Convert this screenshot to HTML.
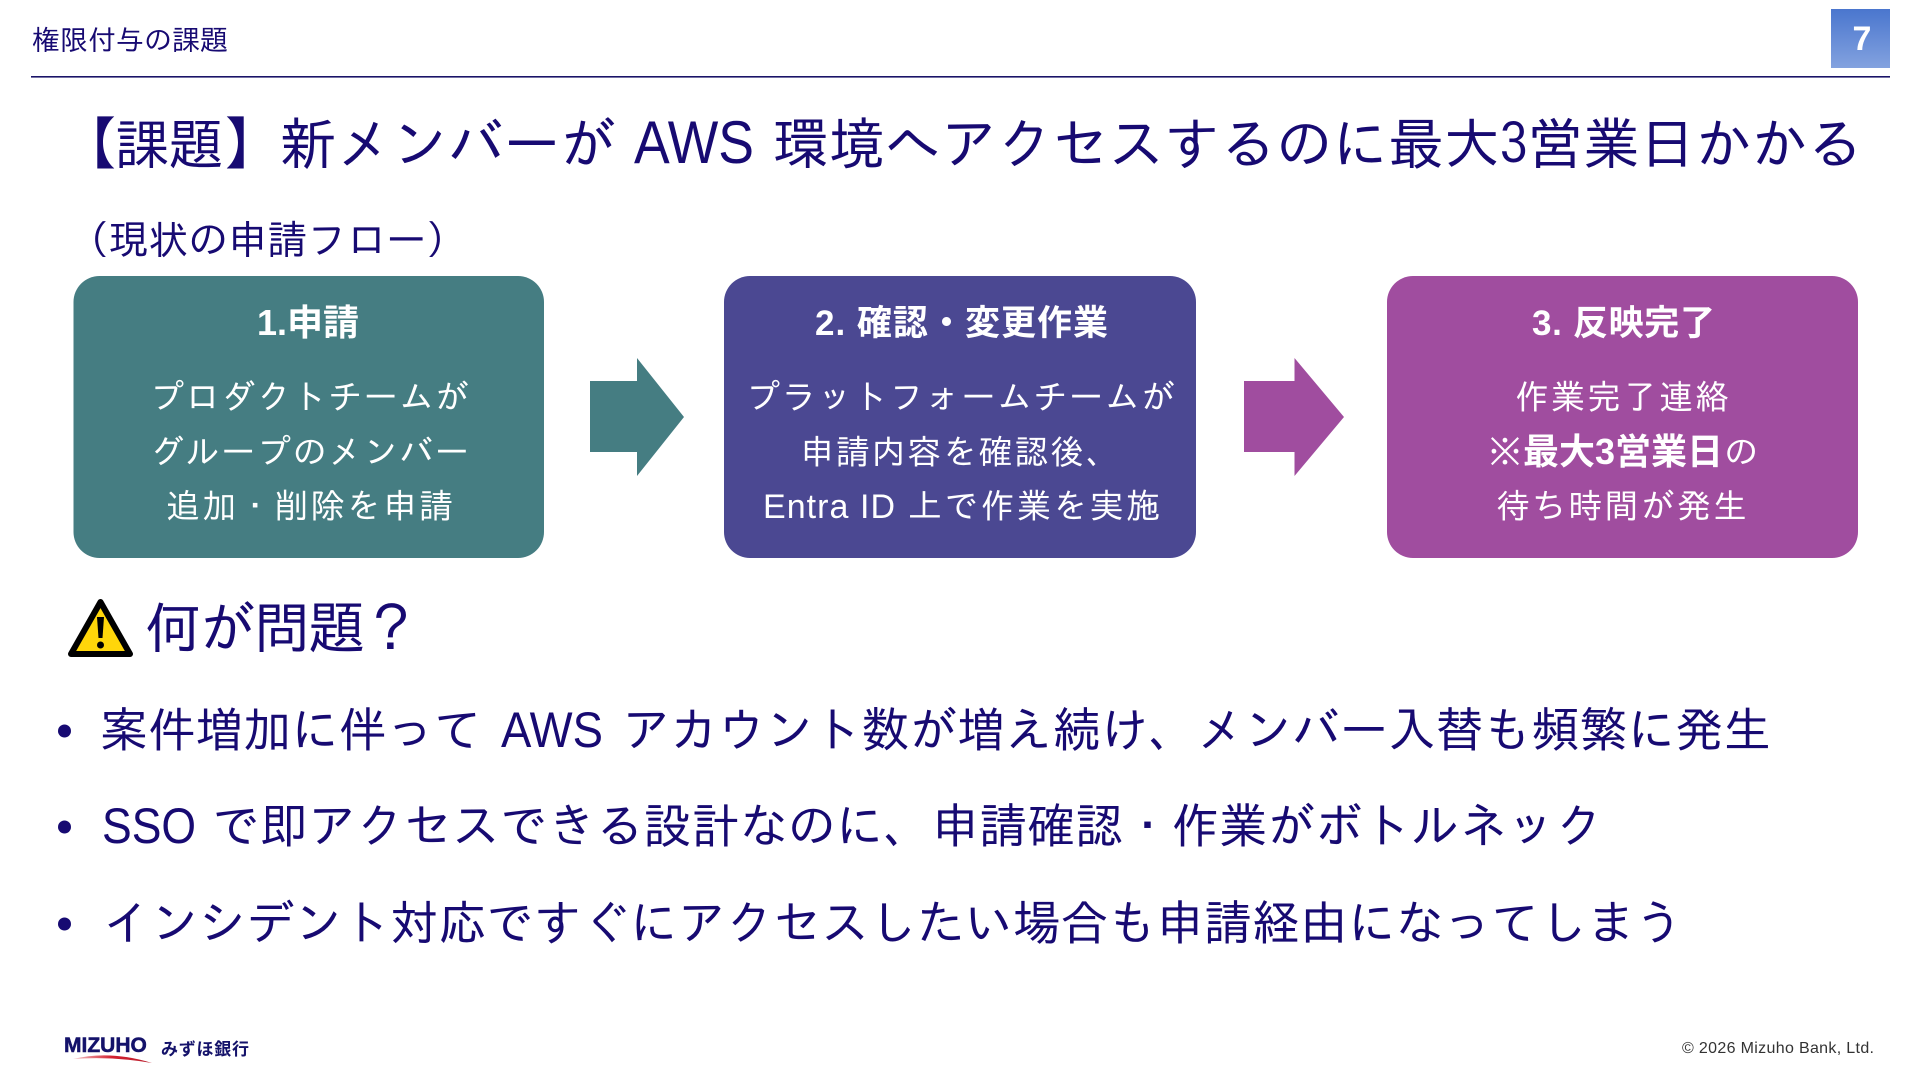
<!DOCTYPE html>
<html lang="ja"><head><meta charset="utf-8"><title>権限付与の課題</title>
<style>
html,body{margin:0;padding:0;background:#fff;width:1920px;height:1080px;overflow:hidden}
svg{display:block}
text{font-family:"IPAGothic","Noto Sans CJK JP",sans-serif;fill:#170a72}
.w{fill:#fff}
.b{font-family:"Liberation Sans","Noto Sans CJK JP",sans-serif;font-weight:700;fill:#fff}
.n{font-family:"Liberation Sans",sans-serif}
.k{font-family:"Noto Sans CJK JP",sans-serif}
</style></head><body>
<svg width="1920" height="1080" viewBox="0 0 1920 1080" xmlns="http://www.w3.org/2000/svg">
<defs>
<linearGradient id="g" x1="0" y1="0" x2="0" y2="1"><stop offset="0" stop-color="#4a76ce"/><stop offset="1" stop-color="#83a2df"/></linearGradient>
<linearGradient id="r" x1="0" y1="0" x2="1" y2="0"><stop offset="0" stop-color="#f4c9cc"/><stop offset=".5" stop-color="#d2202f"/><stop offset="1" stop-color="#b8202f"/></linearGradient>
</defs>
<rect width="1920" height="1080" fill="#fff"/>
<text x="32" y="50" font-size="28" textLength="196">権限付与の課題</text>
<rect x="31" y="76" width="1859" height="1.6" fill="#1a1468"/>
<rect x="1831" y="9" width="59" height="59" fill="url(#g)"/>
<text class="b" x="1862" y="50" font-size="34" text-anchor="middle" style="font-family:'Liberation Sans';font-weight:700">7</text>

<text class="k" x="60" y="164" font-size="56">【</text>
<text x="115" y="164" font-size="54">課題</text>
<text class="k" x="225" y="164" font-size="56">】</text>
<text x="280" y="164" font-size="56" textLength="336">新メンバーが</text>
<text class="n" x="634" y="163" font-size="60" textLength="120" lengthAdjust="spacingAndGlyphs">AWS</text>
<text x="773" y="164" font-size="56" textLength="1090">環境へアクセスするのに最大3営業日かかる</text>
<text x="69" y="254" font-size="40" textLength="397">（現状の申請フロー）</text>

<rect x="73.500" y="276" width="470.500" height="282" rx="26" fill="#457d82"/>
<rect x="724" y="276" width="472" height="282" rx="26" fill="#4b4892"/>
<rect x="1387" y="276" width="471" height="282" rx="26" fill="#a04d9f"/>

<polygon points="590,381 637,381 637,358 684,417 637,476 637,452 590,452" fill="#457d82"/>
<polygon points="1244,381 1294.500,381 1294.500,358 1344,417 1294.500,476 1294.500,452 1244,452" fill="#a04d9f"/>

<text class="b" x="257" y="335" font-size="36">1.申請</text>
<text class="w" x="150" y="409" font-size="34" textLength="319">プロダクトチームが</text>
<text class="w" x="150" y="464" font-size="34" textLength="319">グループのメンバー</text>
<text class="w" x="166" y="518" font-size="34" textLength="287">追加・削除を申請</text>

<text class="b" x="815" y="335" font-size="35" textLength="293">2. 確認・変更作業</text>
<text class="w" x="746" y="409" font-size="34" textLength="429">プラットフォームチームが</text>
<text class="w" x="800" y="464" font-size="34" textLength="320">申請内容を確認後、</text>
<text class="w n" x="763" y="518" font-size="34" textLength="132">Entra ID</text>
<text class="w" x="908" y="518" font-size="34" textLength="252">上で作業を実施</text>

<text class="b" x="1532" y="335" font-size="35" textLength="183">3. 反映完了</text>
<text class="w" x="1515" y="409" font-size="34" textLength="214">作業完了連絡</text>
<text class="w" x="1488" y="464" font-size="34">※</text>
<text class="b" x="1523" y="464" font-size="36">最大3営業日</text>
<text class="w" x="1724" y="464" font-size="34">の</text>
<text class="w" x="1496" y="518" font-size="34" textLength="251">待ち時間が発生</text>

<path d="M100.500 602 L130 654 L71 654 Z" fill="#ffd60a" stroke="#000" stroke-width="6" stroke-linejoin="round"/>
<path d="M97 617 h7 l-1.500 21 h-4 Z" fill="#000"/><circle cx="100.500" cy="645" r="3.500" fill="#000"/>
<text x="145" y="648" font-size="56" textLength="274">何が問題？</text>

<circle cx="64.500" cy="731" r="6.500" fill="#170a72"/>
<text x="100" y="747" font-size="48" textLength="382">案件増加に伴って</text>
<text class="n" x="501" y="747" font-size="50" textLength="102" lengthAdjust="spacingAndGlyphs">AWS</text>
<text x="622" y="747" font-size="48" textLength="1149">アカウント数が増え続け、メンバー入替も頻繁に発生</text>
<circle cx="64.500" cy="827" r="6.500" fill="#170a72"/>
<text class="n" x="102" y="843" font-size="50" textLength="94" lengthAdjust="spacingAndGlyphs">SSO</text>
<text x="212" y="843" font-size="48" textLength="1391">で即アクセスできる設計なのに、申請確認・作業がボトルネック</text>
<circle cx="64.500" cy="924" r="6.500" fill="#170a72"/>
<text x="103" y="940" font-size="48" textLength="1580">インシデント対応ですぐにアクセスしたい場合も申請経由になってしまう</text>

<text x="64" y="1052" font-size="21" style="font-family:'Liberation Sans',sans-serif;font-weight:700;fill:#14126a;stroke:#14126a;stroke-width:.5">MIZUHO</text>
<path d="M73 1059 Q110 1050 152 1063 Q112 1056 73 1059 Z" fill="url(#r)"/>
<text x="161" y="1055" font-size="17" textLength="88" style="font-family:'Noto Sans CJK JP',sans-serif;font-weight:700;fill:#14126a">みずほ銀行</text>
<text x="1682" y="1053" font-size="16" textLength="192" style="fill:#333;font-family:'Liberation Sans','Noto Sans CJK JP',sans-serif">© 2026 Mizuho Bank, Ltd.</text>
</svg>
</body></html>
